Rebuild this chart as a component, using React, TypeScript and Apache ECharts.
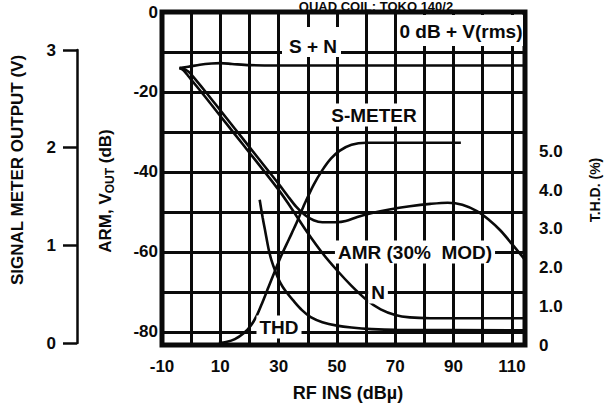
import React, { useEffect, useRef } from 'react';
import * as echarts from 'echarts';

// RF input (dBµ) range and tick labels
const rfMin = -10;
const rfMax = 114.5;
const rfLabels = [-10, 10, 30, 50, 70, 90, 110];

// ARM, VOUT (dB) axis
const dbMin = -83.3;
const dbMax = 0;
const dbLabels = [0, -20, -40, -60, -80];

// T.H.D. (%) axis
const thdMin = 0;
const thdMax = 8.6;
const thdLabels = [0, 1, 2, 3, 4, 5];

// Signal meter output (V) axis
const meterMin = 0;
const meterMax = 3;
const meterPlotMin = -0.0205;
const meterPlotMax = 3.389;

// S + N (dB)
const snCurve: [number, number][] = [
  [-4, -14.0], [-1, -13.7], [3, -13.2], [7, -12.9], [10, -12.8], [14, -13.0],
  [20, -13.3], [40, -13.4], [70, -13.4], [114.5, -13.4],
];

// AMR (30% MOD) (dB)
const amrCurve: [number, number][] = [
  [-4, -14.0], [-3, -14.1], [-2, -14.4], [-1, -14.9], [0, -15.6], [5, -20.0],
  [10, -24.6], [15, -29.2], [20, -33.8], [25, -38.4], [30, -43.0], [33, -45.9],
  [36, -48.7], [39, -50.8], [42, -52.1], [45, -52.6], [50, -52.6], [53, -52.3],
  [57, -51.3], [62, -50.3], [68, -49.4], [75, -48.6], [82, -48.0], [88, -47.7],
  [93, -48.2], [98, -49.8], [102, -51.9], [106, -54.6], [110, -58.0], [114.5, -62.0],
];

// N (dB)
const nCurve: [number, number][] = [
  [-4, -14.0], [-3, -14.4], [-2, -15.1], [-1, -16.0], [0, -16.9], [5, -21.4],
  [10, -26.0], [15, -30.6], [20, -35.2], [25, -39.8], [30, -44.5], [33, -47.6],
  [36, -50.9], [40, -55.3], [45, -60.3], [50, -64.6], [55, -68.5], [60, -71.9],
  [65, -74.4], [70, -75.8], [75, -76.4], [82, -76.6], [114.5, -76.6],
];

// THD (%)
const thdCurve: [number, number][] = [
  [23.5, 3.75], [24.5, 3.3], [25.5, 2.9], [26.5, 2.5], [27.5, 2.2], [29, 1.88],
  [30.5, 1.62], [32.5, 1.38], [35, 1.15], [38, 0.9], [41, 0.72], [45, 0.59],
  [50, 0.5], [55, 0.45], [62, 0.41], [70, 0.39], [114.5, 0.38],
];

// S-METER (V)
const sMeterCurve: [number, number][] = [
  [9.5, 0], [12, 0.01], [15, 0.04], [18, 0.1], [20.5, 0.18], [22.5, 0.28],
  [24.5, 0.42], [26.5, 0.57], [28.5, 0.72], [31, 0.9], [33.5, 1.06], [36, 1.22],
  [39, 1.43], [42, 1.62], [45, 1.77], [48, 1.89], [51, 1.97], [55, 2.03],
  [60, 2.05], [92.5, 2.05],
];

const FONT = "'Liberation Sans', Arial, sans-serif";
const INK = '#0a0a0a';

const lineSeries = (name: string, data: [number, number][], xAxisIndex: number, yAxisIndex: number) => ({
  type: 'line',
  name,
  data,
  xAxisIndex,
  yAxisIndex,
  showSymbol: false,
  symbol: 'none',
  smooth: 0.3,
  silent: true,
  z: 5,
  lineStyle: { color: INK, width: 2.6 },
});

const labelText = (text: string, x: number, y: number, size = 19, bg = true) => ({
  type: 'text',
  x,
  y,
  z: 20,
  style: {
    text,
    align: 'center',
    verticalAlign: 'middle',
    fontSize: size,
    fontWeight: 'bold',
    fontFamily: FONT,
    fill: INK,
    backgroundColor: bg ? '#ffffff' : undefined,
    padding: bg ? [2, 3, 2, 3] : undefined,
  },
});

export default function App() {
  const ref = useRef<HTMLDivElement>(null);

  useEffect(() => {
    if (!ref.current) return;
    const chart = echarts.init(ref.current, null, { renderer: 'svg' });
    const tickFont = { fontSize: 17, fontWeight: 'bold', fontFamily: FONT, color: INK };

    chart.setOption({
      animation: false,
      backgroundColor: '#ffffff',
      grid: [
        {
          left: 162, top: 12, right: 85, bottom: 59,
          show: true, borderColor: INK, borderWidth: 5,
          outerBoundsMode: 'none',
        },
        {
          left: 77, top: 50, width: 40, height: 293,
          show: false,
          outerBoundsMode: 'none',
        },
      ],
      xAxis: [
        {
          type: 'value', gridIndex: 0, min: rfMin, max: rfMax, interval: 10,
          axisLine: { show: false }, axisTick: { show: false },
          splitLine: { show: true, lineStyle: { color: INK, width: 3 } },
          axisLabel: {
            ...tickFont, margin: 13,
            formatter: (v: number) => (rfLabels.includes(v) ? String(v) : ''),
          },
        },
        { type: 'value', gridIndex: 1, min: 0, max: 1, show: false },
      ],
      yAxis: [
        {
          type: 'value', gridIndex: 0, min: dbMin, max: dbMax, splitNumber: 8,
          axisLine: { show: false }, axisTick: { show: false },
          splitLine: { show: true, lineStyle: { color: INK, width: 3 } },
          axisLabel: {
            ...tickFont, margin: 4,
            formatter: (v: number) => (dbLabels.some((d) => Math.abs(d - v) < 1e-6) ? String(v) : ''),
          },
        },
        {
          type: 'value', gridIndex: 0, position: 'right', min: thdMin, max: thdMax, interval: 1,
          axisLine: { show: false }, axisTick: { show: false }, splitLine: { show: false },
          axisLabel: {
            ...tickFont, margin: 14,
            formatter: (v: number) =>
              thdLabels.some((d) => Math.abs(d - v) < 1e-6) ? (v === 0 ? '0' : v.toFixed(1)) : '',
          },
        },
        {
          type: 'value', gridIndex: 0, position: 'left', min: meterPlotMin, max: meterPlotMax,
          show: false, splitLine: { show: false },
        },
        {
          type: 'value', gridIndex: 1, position: 'left', min: meterMin, max: meterMax, interval: 1,
          axisLine: { show: true, onZero: false, lineStyle: { color: INK, width: 2.5 } },
          axisTick: { show: true, inside: false, length: 14, lineStyle: { color: INK, width: 2.5 } },
          splitLine: { show: false },
          axisLabel: { ...tickFont, margin: 21 },
        },
      ],
      series: [
        lineSeries('S + N', snCurve, 0, 0),
        lineSeries('AMR (30% MOD)', amrCurve, 0, 0),
        lineSeries('N', nCurve, 0, 0),
        lineSeries('THD', thdCurve, 0, 1),
        lineSeries('S-METER', sMeterCurve, 0, 2),
      ],
      graphic: [
        { type: 'rect', z: 19, shape: { x: 282, y: 27, width: 59, height: 30 }, style: { fill: '#ffffff' } },
        { type: 'rect', z: 19, shape: { x: 399, y: 15, width: 124, height: 31 }, style: { fill: '#ffffff' } },
        labelText('S + N', 313, 46, 19, false),
        labelText('0 dB + V(rms)', 461, 31, 19, false),
        labelText('S-METER', 374, 115, 19),
        labelText('AMR (30%  MOD)', 415, 252, 19),
        labelText('N', 378, 292, 19),
        labelText('THD', 279, 327, 19),
        {
          type: 'text', x: 376, y: 6.5, z: 20,
          style: {
            text: 'QUAD COIL: TOKO 140/2', align: 'center', verticalAlign: 'middle',
            fontSize: 13, fontWeight: 'bold', fontFamily: FONT, fill: INK,
          },
        },
        {
          type: 'text', x: 348, y: 393, z: 20,
          style: {
            text: 'RF INS (dBµ)', align: 'center', verticalAlign: 'middle',
            fontSize: 18, fontWeight: 'bold', fontFamily: FONT, fill: INK,
          },
        },
        {
          type: 'text', x: 17, y: 170, z: 20, rotation: Math.PI / 2,
          style: {
            text: 'SIGNAL METER OUTPUT (V)', align: 'center', verticalAlign: 'middle',
            fontSize: 17, fontWeight: 'bold', fontFamily: FONT, fill: INK,
          },
        },
        {
          type: 'text', x: 105, y: 191, z: 20, rotation: Math.PI / 2,
          style: {
            text: '{a|ARM, V}{s|OUT}{a| (dB)}', align: 'center', verticalAlign: 'middle',
            fontFamily: FONT, fill: INK,
            rich: {
              a: { fontSize: 17, fontWeight: 'bold', fontFamily: FONT, fill: INK, lineHeight: 20 },
              s: { fontSize: 12, fontWeight: 'bold', fontFamily: FONT, fill: INK, lineHeight: 20, padding: [9, 0, 0, 0] },
            },
          },
        },
        {
          type: 'text', x: 595, y: 190, z: 20, rotation: Math.PI / 2,
          style: {
            text: 'T.H.D. (%)', align: 'center', verticalAlign: 'middle',
            fontSize: 14, fontWeight: 'bold', fontFamily: FONT, fill: INK,
          },
        },
      ],
    });

    return () => chart.dispose();
  }, []);

  return (
    <div
      ref={ref}
      style={{ position: 'absolute', left: 0, top: 0, width: 610, height: 404, background: '#fff' }}
    />
  );
}
